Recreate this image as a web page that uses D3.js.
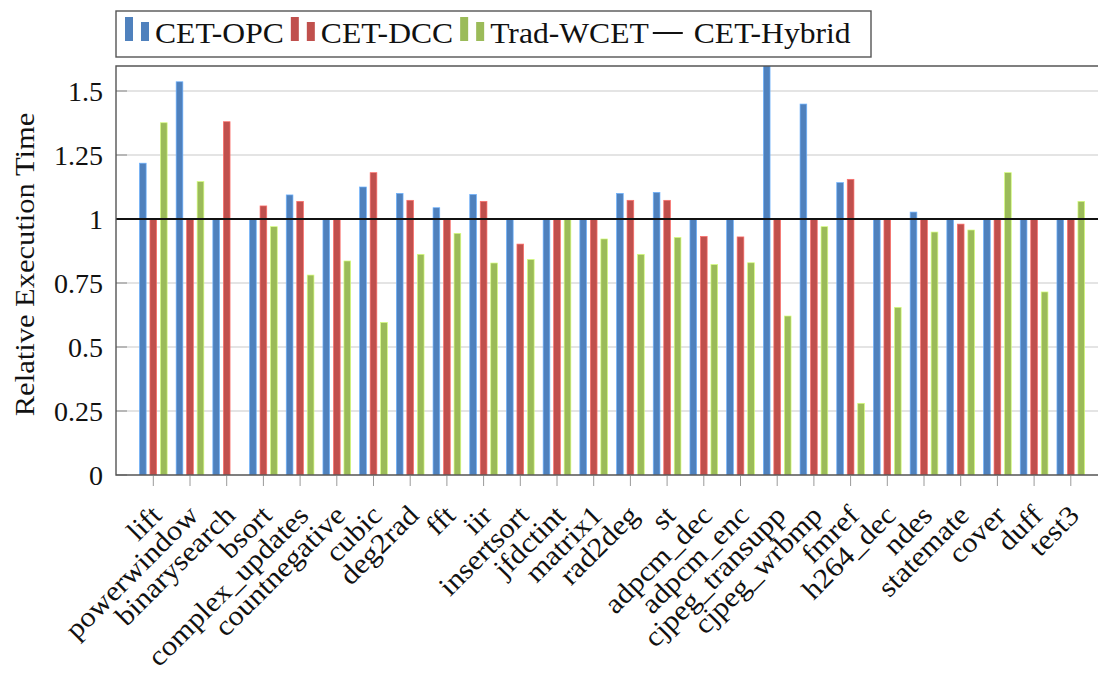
<!DOCTYPE html>
<html>
<head>
<meta charset="utf-8">
<script src="https://cdn.jsdelivr.net/npm/d3@7"></script>
<style>
  body { margin: 0; background: #fff; }
  svg { display: block; }
  text { font-family: "Liberation Serif", "Times New Roman", serif; fill: #111; }
</style>
</head>
<body>
<div id="chart"></div>
<script>
const benchmarks = ['lift', 'powerwindow', 'binarysearch', 'bsort', 'complex_updates', 'countnegative',
    'cubic', 'deg2rad', 'fft', 'iir', 'insertsort', 'jfdctint', 'matrix1', 'rad2deg', 'st',
    'adpcm_dec', 'adpcm_enc', 'cjpeg_transupp', 'cjpeg_wrbmp', 'fmref', 'h264_dec', 'ndes',
    'statemate', 'cover', 'duff', 'test3'];

const cetOpc  = [1.218, 1.536, 1.0, 1.0, 1.094, 1.0, 1.125, 1.100, 1.044, 1.096, 1.0, 1.0, 1.0,
    1.100, 1.104, 1.0, 1.0, 1.70, 1.449, 1.142, 1.0, 1.027, 1.0, 1.0, 1.0, 1.0];
const cetDcc  = [1.0, 1.0, 1.380, 1.051, 1.069, 1.0, 1.181, 1.073, 1.0, 1.069, 0.902, 1.0, 1.0,
    1.073, 1.073, 0.932, 0.930, 1.0, 1.0, 1.155, 1.0, 1.0, 0.980, 1.0, 1.0, 1.0];
const tradWcet = [1.376, 1.146, 0.0, 0.970, 0.781, 0.836, 0.596, 0.862, 0.944, 0.828, 0.842, 1.0, 0.922,
    0.862, 0.928, 0.822, 0.829, 0.621, 0.970, 0.280, 0.655, 0.949, 0.957, 1.181, 0.715, 1.069];
const hybridLevel = 1;

const seriesNames = ['CET-OPC', 'CET-DCC', 'Trad-WCET'];
const seriesValues = [cetOpc, cetDcc, tradWcet];
const colors = ['#4f81bd', '#c0504d', '#9bbb59'];
const yTicks = [0, 0.25, 0.5, 0.75, 1, 1.25, 1.5];
const yTickLabels = ['0', '0.25', '0.5', '0.75', '1', '1.25', '1.5'];

const width = 1098, height = 673;
const plotLeft = 116, plotTop = 66, plotBottom = 475, plotRight = 1108;
const groupStep = 36.7, barW = 6.7;
const stretch = 1.09; // widen Times-metric glyphs a bit toward Computer Modern

const svg = d3.select('#chart').append('svg')
    .attr('width', width)
    .attr('height', height);

svg.append('rect').attr('width', width).attr('height', height).attr('fill', '#fff');

const x = d3.scalePoint()
    .domain(benchmarks)
    .range([plotLeft + 37.3, plotLeft + 37.3 + groupStep * (benchmarks.length - 1)]);

const offset = d3.scalePoint()
    .domain(seriesNames)
    .range([-10.5, 10.5]);

const y = d3.scaleLinear()
    .domain([0, 1.6])
    .range([plotBottom, plotBottom - 1.6 * 256]);

function widen(sel, k) {
    sel.each(function() {
        const len = this.getComputedTextLength();
        d3.select(this).attr('textLength', len * k).attr('lengthAdjust', 'spacingAndGlyphs');
    });
}

svg.append('clipPath').attr('id', 'plotclip')
    .append('rect').attr('x', plotLeft).attr('y', plotTop)
    .attr('width', plotRight - plotLeft).attr('height', plotBottom - plotTop);

// grid lines
svg.append('g')
    .selectAll('line')
    .data(yTicks.filter(d => d > 0))
    .join('line')
    .attr('x1', plotLeft).attr('x2', plotRight)
    .attr('y1', d => y(d)).attr('y2', d => y(d))
    .attr('stroke', '#c9c9c9')
    .attr('stroke-width', 1);

// y tick marks (inside)
svg.append('g')
    .selectAll('line')
    .data(yTicks)
    .join('line')
    .attr('x1', plotLeft).attr('x2', plotLeft + 11)
    .attr('y1', d => y(d)).attr('y2', d => y(d))
    .attr('stroke', '#8a8a8a')
    .attr('stroke-width', 1);

// bars
const bars = svg.append('g').attr('clip-path', 'url(#plotclip)');
seriesNames.forEach((name, s) => {
    bars.append('g')
        .selectAll('rect')
        .data(benchmarks)
        .join('rect')
        .attr('x', d => x(d) + offset(name) - barW / 2)
        .attr('y', (d, i) => y(seriesValues[s][i]))
        .attr('width', barW)
        .attr('height', (d, i) => y(0) - y(seriesValues[s][i]))
        .attr('fill', colors[s])
        .attr('stroke', d3.color(colors[s]).brighter(0.9))
        .attr('stroke-width', 0.7);
});

// hybrid reference line
svg.append('line')
    .attr('x1', plotLeft).attr('x2', plotRight)
    .attr('y1', y(hybridLevel)).attr('y2', y(hybridLevel))
    .attr('stroke', '#111')
    .attr('stroke-width', 2);

// frame
svg.append('path')
    .attr('d', `M${plotRight},${plotTop}H${plotLeft}V${plotBottom}H${plotRight}`)
    .attr('fill', 'none')
    .attr('stroke', '#555')
    .attr('stroke-width', 1.4);

// x ticks
svg.append('g')
    .selectAll('line')
    .data(benchmarks)
    .join('line')
    .attr('x1', d => x(d)).attr('x2', d => x(d))
    .attr('y1', plotBottom + 1).attr('y2', plotBottom + 11)
    .attr('stroke', '#9a9a9a')
    .attr('stroke-width', 1);

// y tick labels
svg.append('g')
    .selectAll('text')
    .data(yTicks)
    .join('text')
    .attr('x', 103)
    .attr('y', d => y(d))
    .attr('dy', '0.35em')
    .attr('text-anchor', 'end')
    .attr('font-size', 28)
    .text((d, i) => yTickLabels[i]);

// x tick labels, rotated
svg.append('g')
    .selectAll('text')
    .data(benchmarks)
    .join('text')
    .attr('transform', d => `translate(${x(d) + 10},${plotBottom + 42}) rotate(-45)`)
    .attr('text-anchor', 'end')
    .attr('font-size', 28)
    .text(d => d)
    .call(widen, stretch);

// y axis title
svg.append('text')
    .attr('transform', `translate(34,${(plotTop + plotBottom) / 2 - 6}) rotate(-90)`)
    .attr('text-anchor', 'middle')
    .attr('font-size', 28)
    .text('Relative Execution Time')
    .call(widen, stretch);

// legend
const legend = svg.append('g');
legend.append('rect')
    .attr('x', plotLeft).attr('y', 11)
    .attr('width', 755).attr('height', 46)
    .attr('fill', '#fff')
    .attr('stroke', '#555')
    .attr('stroke-width', 1.4);

let cx = 125;
const entries = seriesNames.map((n, i) => ({ name: n, color: colors[i], type: 'bar' }))
    .concat([{ name: 'CET-Hybrid', color: '#111', type: 'line' }]);

entries.forEach(e => {
    if (e.type === 'bar') {
        legend.append('rect').attr('x', cx).attr('y', 17).attr('width', 8).attr('height', 24).attr('fill', e.color);
        legend.append('rect').attr('x', cx + 16).attr('y', 22).attr('width', 8).attr('height', 19).attr('fill', e.color);
        cx += 30;
    } else {
        legend.append('line').attr('x1', cx - 3).attr('x2', cx + 27).attr('y1', 33).attr('y2', 33)
            .attr('stroke', e.color).attr('stroke-width', 2);
        cx += 38;
    }
    const t = legend.append('text')
        .attr('x', cx)
        .attr('y', 42.5)
        .attr('font-size', 29)
        .text(e.name)
        .call(widen, stretch);
    cx += +t.attr('textLength') + 7;
});
</script>
</body>
</html>
